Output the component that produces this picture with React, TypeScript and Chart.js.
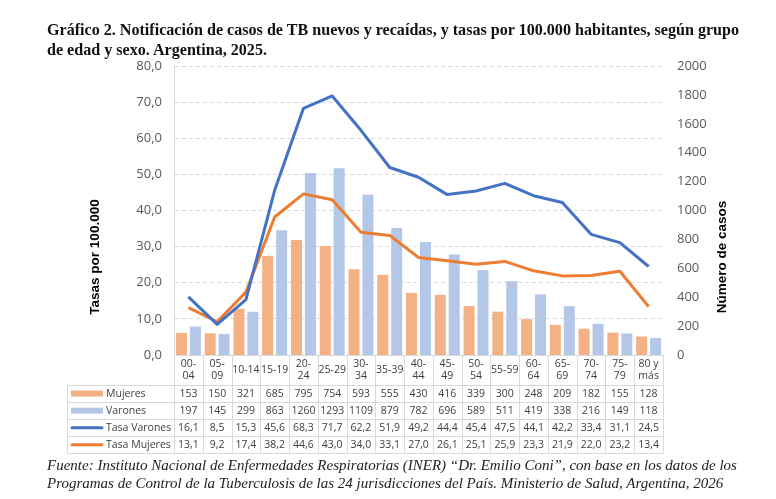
import React, { useEffect, useRef } from "react";
import { Chart, registerables } from "chart.js";

Chart.register(...registerables);

const categories: (string | string[])[] = [
  ["00-", "04"], ["05-", "09"], "10-14", "15-19", ["20-", "24"], "25-29", ["30-", "34"], "35-39",
  ["40-", "44"], ["45-", "49"], ["50-", "54"], "55-59", ["60-", "64"], ["65-", "69"], ["70-", "74"],
  ["75-", "79"], ["80 y", "más"],
];
const mujeres = [153, 150, 321, 685, 795, 754, 593, 555, 430, 416, 339, 300, 248, 209, 182, 155, 128];
const varones = [197, 145, 299, 863, 1260, 1293, 1109, 879, 782, 696, 589, 511, 419, 338, 216, 149, 118];
const tasaVarones = [16.1, 8.5, 15.3, 45.6, 68.3, 71.7, 62.2, 51.9, 49.2, 44.4, 45.4, 47.5, 44.1, 42.2, 33.4, 31.1, 24.5];
const tasaMujeres = [13.1, 9.2, 17.4, 38.2, 44.6, 43.0, 34.0, 33.1, 27.0, 26.1, 25.1, 25.9, 23.3, 21.9, 22.0, 23.2, 13.4];

const COL_MUJ = "#F4B183";
const COL_VAR = "#B4C7E7";
const COL_TV = "#4472C4";
const COL_TM = "#ED7D31";
const TEXT = "#404040";
const GRID = "#D9D9D9";

const fmtInt = (v: number) => String(v);
const fmtDec = (v: number) => v.toFixed(1).replace(".", ",");

const tableRows = [
  { label: "Mujeres", kind: "bar", color: COL_MUJ, values: mujeres, fmt: fmtInt },
  { label: "Varones", kind: "bar", color: COL_VAR, values: varones, fmt: fmtInt },
  { label: "Tasa Varones", kind: "line", color: COL_TV, values: tasaVarones, fmt: fmtDec },
  { label: "Tasa Mujeres", kind: "line", color: COL_TM, values: tasaMujeres, fmt: fmtDec },
];

const tablePlugin = {
  id: "dataTable",
  afterDraw(chart: any) {
    const { ctx, chartArea, scales } = chart;
    const xs = scales.x;
    const n = categories.length;
    const left = chartArea.left;
    const right = chartArea.right;
    const w = (right - left) / n;
    const top = chartArea.bottom;
    const headerBottom = 384.5;
    const rowH = 17.1;
    const legendLeft = 67.5;
    const bottom = headerBottom + rowH * tableRows.length;

    ctx.save();
    ctx.strokeStyle = GRID;
    ctx.lineWidth = 1;
    for (let i = 0; i <= n; i++) {
      const x = Math.round(left + i * w) + 0.5;
      ctx.beginPath();
      ctx.moveTo(x, top);
      ctx.lineTo(x, bottom);
      ctx.stroke();
    }
    ctx.beginPath();
    ctx.moveTo(legendLeft, headerBottom);
    ctx.lineTo(legendLeft, bottom);
    ctx.stroke();
    for (let r = 0; r <= tableRows.length; r++) {
      const y = Math.round(headerBottom + r * rowH) + 0.5;
      ctx.beginPath();
      ctx.moveTo(legendLeft, y);
      ctx.lineTo(Math.round(right) + 0.5, y);
      ctx.stroke();
    }

    ctx.fillStyle = TEXT;
    ctx.textAlign = "center";
    ctx.textBaseline = "middle";
    ctx.font = "10.5px 'Open Sans'";
    categories.forEach((c, i) => {
      const cx = xs.getPixelForValue(i);
      if (Array.isArray(c)) {
        ctx.fillText(c[0], cx, top + 9.5);
        ctx.fillText(c[1], cx, top + 21.5);
      } else {
        ctx.fillText(c, cx, top + 15);
      }
    });
    tableRows.forEach((row, r) => {
      const cy = headerBottom + r * rowH + rowH / 2 + 0.5;
      row.values.forEach((v, i) => {
        ctx.fillStyle = TEXT;
        ctx.textAlign = "center";
        ctx.fillText(row.fmt(v), xs.getPixelForValue(i), cy);
      });
      if (row.kind === "bar") {
        ctx.fillStyle = row.color;
        ctx.fillRect(71, cy - 3, 32, 6);
      } else {
        ctx.strokeStyle = row.color;
        ctx.lineWidth = 3;
        ctx.lineCap = "round";
        ctx.beginPath();
        ctx.moveTo(72, cy);
        ctx.lineTo(102, cy);
        ctx.stroke();
      }
      ctx.fillStyle = TEXT;
      ctx.textAlign = "left";
      ctx.fillText(row.label, 106, cy);
    });

    ctx.fillStyle = "#000";
    ctx.font = "bold 13.5px 'Liberation Sans'";
    ctx.textAlign = "center";
    ctx.textBaseline = "middle";
    ctx.save();
    ctx.translate(95, 257);
    ctx.rotate(-Math.PI / 2);
    ctx.fillText("Tasas por 100.000", 0, 0);
    ctx.restore();
    ctx.save();
    ctx.translate(722, 257);
    ctx.rotate(-Math.PI / 2);
    ctx.fillText("Número de casos", 0, 0);
    ctx.restore();

    ctx.restore();
  },
};

export default function App() {
  const ref = useRef<HTMLCanvasElement | null>(null);

  useEffect(() => {
    if (!ref.current) return;
    const chart = new Chart(ref.current, {
      type: "bar",
      data: {
        labels: categories as any,
        datasets: [
          {
            type: "line",
            label: "Tasa Varones",
            data: tasaVarones,
            yAxisID: "y",
            borderColor: COL_TV,
            backgroundColor: COL_TV,
            borderWidth: 3,
            pointRadius: 0,
            tension: 0,
            borderJoinStyle: "round",
            order: 0,
          } as any,
          {
            type: "line",
            label: "Tasa Mujeres",
            data: tasaMujeres,
            yAxisID: "y",
            borderColor: COL_TM,
            backgroundColor: COL_TM,
            borderWidth: 3,
            pointRadius: 0,
            tension: 0,
            borderJoinStyle: "round",
            order: 0,
          } as any,
          {
            type: "bar",
            label: "Mujeres",
            data: mujeres,
            yAxisID: "y1",
            backgroundColor: COL_MUJ,
            categoryPercentage: 0.97,
            barPercentage: 0.79,
            order: 1,
          } as any,
          {
            type: "bar",
            label: "Varones",
            data: varones,
            yAxisID: "y1",
            backgroundColor: COL_VAR,
            categoryPercentage: 0.97,
            barPercentage: 0.79,
            order: 1,
          } as any,
        ],
      },
      options: {
        responsive: false,
        animation: false,
        devicePixelRatio: 1,
        layout: { padding: { top: 66, left: 0, right: 0, bottom: 0 } },
        plugins: {
          legend: { display: false },
          tooltip: { enabled: false },
          title: { display: false },
        },
        scales: {
          x: {
            type: "category",
            offset: true,
            grid: { display: false, drawTicks: false },
            ticks: { display: false },
            border: { display: true, color: GRID, width: 1 },
            afterFit: (s: any) => {
              s.height = 144;
            },
          },
          y: {
            type: "linear",
            position: "left",
            min: 0,
            max: 80,
            ticks: {
              stepSize: 10,
              padding: 12,
              color: "#595959",
              font: { family: "'Open Sans'", size: 13 },
              callback: (v: any) => fmtDec(Number(v)),
            },
            grid: { color: GRID, drawTicks: false, lineWidth: 1 },
            border: { display: true, color: GRID, dash: [4, 3] },
            afterFit: (s: any) => {
              s.width = 174;
            },
          },
          y1: {
            type: "linear",
            position: "right",
            min: 0,
            max: 2000,
            ticks: {
              stepSize: 200,
              padding: 14,
              color: "#595959",
              font: { family: "'Open Sans'", size: 13 },
              callback: (v: any) => String(v),
            },
            grid: { display: false, drawTicks: false },
            border: { display: false },
            afterFit: (s: any) => {
              s.width = 113;
            },
          },
        },
      } as any,
      plugins: [tablePlugin],
    });
    return () => chart.destroy();
  }, []);

  return (
    <div style={{ position: "fixed", left: 0, top: 0, width: 776, height: 499, background: "#fff" }}>
      <canvas ref={ref} width={776} height={499} style={{ position: "absolute", left: 0, top: 0 }} />
      <div
        style={{
          position: "absolute",
          left: 47,
          top: 20,
          whiteSpace: "nowrap",
          font: "bold 16.1px 'Liberation Serif'",
          lineHeight: "20px",
          color: "#111",
        }}
      >
        Gráfico 2. Notificación de casos de TB nuevos y recaídas, y tasas por 100.000 habitantes, según grupo
        <br />
        de edad y sexo. Argentina, 2025.
      </div>
      <div
        style={{
          position: "absolute",
          left: 47,
          top: 456,
          whiteSpace: "nowrap",
          font: "italic 15px 'Liberation Serif'",
          lineHeight: "18px",
          color: "#222",
        }}
      >
        Fuente: Instituto Nacional de Enfermedades Respiratorias (INER) “Dr. Emilio Coni”, con base en los datos de los
        <br />
        Programas de Control de la Tuberculosis de las 24 jurisdicciones del País. Ministerio de Salud, Argentina, 2026
      </div>
    </div>
  );
}
